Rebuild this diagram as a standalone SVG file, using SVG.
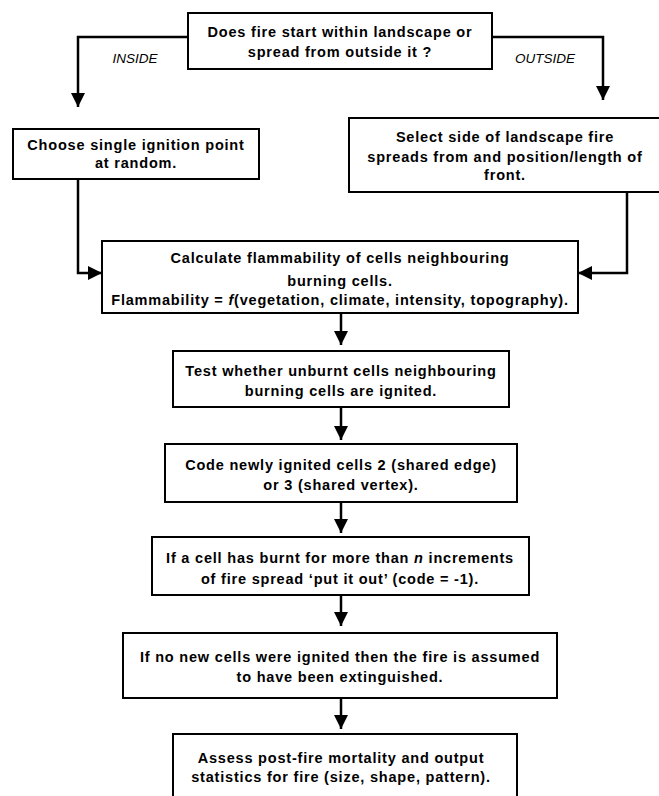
<svg xmlns="http://www.w3.org/2000/svg" width="659" height="796" viewBox="0 0 659 796">
<style>
  .box { fill: #ffffff; stroke: #000000; stroke-width: 2; }
  .t { font-family: "Liberation Sans", Arial, sans-serif; font-weight: bold; font-size: 14.5px; letter-spacing: 0.8px; fill: #000000; text-anchor: middle; }
  .lab { font-family: "Liberation Sans", Arial, sans-serif; font-style: italic; font-size: 13.5px; fill: #000000; text-anchor: middle; }
  .c { fill: none; stroke: #000000; stroke-width: 2.5; marker-end: url(#ah); }
</style>
<defs>
  <marker id="ah" markerUnits="userSpaceOnUse" markerWidth="14" markerHeight="14" refX="14" refY="7" orient="auto">
    <path d="M0,0 L14,7 L0,14 Z" fill="#000000"/>
  </marker>
</defs>
<rect width="659" height="796" fill="#ffffff"/>

<g id="connectors">
  <polyline class="c" points="188,37 78,37 78,107"/>
  <polyline class="c" points="492,37 603,37 603,100"/>
  <polyline class="c" points="78,179 78,273 102,273"/>
  <polyline class="c" points="627,192 627,273 578,273"/>
  <line class="c" x1="341" y1="313" x2="341" y2="345"/>
  <line class="c" x1="341" y1="407" x2="341" y2="440"/>
  <line class="c" x1="341" y1="502" x2="341" y2="533"/>
  <line class="c" x1="341" y1="595" x2="341" y2="626"/>
  <line class="c" x1="341" y1="698" x2="341" y2="729"/>
</g>

<g id="labels">
  <text class="lab" x="135" y="63">INSIDE</text>
  <text class="lab" x="545" y="63">OUTSIDE</text>
</g>

<g id="start">
  <rect class="box" x="188" y="13" width="304" height="56"/>
  <text class="t" x="340" y="37">Does fire start within landscape or</text>
  <text class="t" x="340" y="57">spread from outside it ?</text>
</g>

<g id="inside">
  <rect class="box" x="13" y="129" width="246" height="50"/>
  <text class="t" x="136" y="150">Choose single ignition point</text>
  <text class="t" x="136" y="168">at random.</text>
</g>

<g id="outside">
  <rect class="box" x="349" y="118" width="312" height="74"/>
  <text class="t" x="505" y="142">Select side of landscape fire</text>
  <text class="t" x="505" y="162">spreads from and position/length of</text>
  <text class="t" x="505" y="180">front.</text>
</g>

<g id="flammability">
  <rect class="box" x="102" y="241" width="476" height="72"/>
  <text class="t" x="340" y="263">Calculate flammability of cells neighbouring</text>
  <text class="t" x="340" y="286">burning cells.</text>
  <text class="t" x="340" y="305">Flammability = <tspan font-style="italic">f</tspan>(vegetation, climate, intensity, topography).</text>
</g>

<g id="test">
  <rect class="box" x="173" y="351" width="336" height="56"/>
  <text class="t" x="341" y="376">Test whether unburnt cells neighbouring</text>
  <text class="t" x="341" y="396">burning cells are ignited.</text>
</g>

<g id="code">
  <rect class="box" x="165" y="444" width="352" height="58"/>
  <text class="t" x="341" y="470">Code newly ignited cells 2 (shared edge)</text>
  <text class="t" x="341" y="490">or 3 (shared vertex).</text>
</g>

<g id="putout">
  <rect class="box" x="152" y="537" width="377" height="58"/>
  <text class="t" x="340" y="563">If a cell has burnt for more than <tspan font-style="italic">n</tspan> increments</text>
  <text class="t" x="340" y="584">of fire spread ‘put it out’ (code = -1).</text>
</g>

<g id="extinguished">
  <rect class="box" x="123" y="633" width="434" height="65"/>
  <text class="t" x="340" y="662">If no new cells were ignited then the fire is assumed</text>
  <text class="t" x="340" y="682">to have been extinguished.</text>
</g>

<g id="assess">
  <rect class="box" x="173" y="734" width="344" height="80"/>
  <text class="t" x="341" y="763">Assess post-fire mortality and output</text>
  <text class="t" x="341" y="782">statistics for fire (size, shape, pattern).</text>
</g>
</svg>
